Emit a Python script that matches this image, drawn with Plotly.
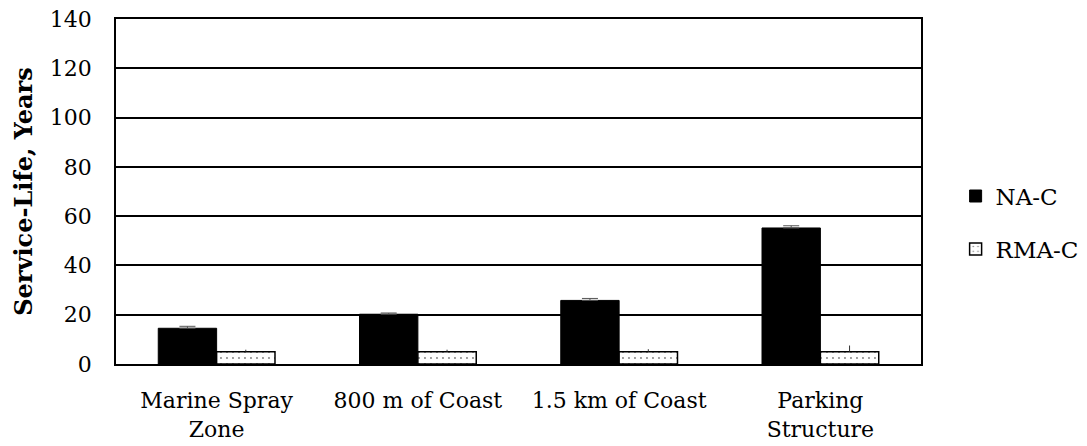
import plotly.graph_objects as go

categories = ["Marine Spray<br>Zone", "800 m of Coast", "1.5 km of Coast", "Parking<br>Structure"]
na_c = [14.5, 20.2, 25.8, 55.2]
na_c_err = [0.8, 0.5, 0.8, 0.9]
rma_c = [5.0, 5.0, 5.0, 5.0]
rma_c_err = [0.8, 0.8, 1.0, 2.5]
y_ticks = [0, 20, 40, 60, 80, 100, 120, 140]

FONT = "DejaVu Serif"
FS = 22

fig = go.Figure()
fig.add_trace(go.Bar(
    name="NA-C", x=categories, y=na_c, legendgroup="a",
    marker=dict(color="black", line=dict(color="black", width=1)),
    error_y=dict(type="data", array=na_c_err, symmetric=False, arrayminus=[0]*4,
                 color="#555", thickness=1, width=8),
))
fig.add_trace(go.Bar(
    name="RMA-C", x=categories, y=rma_c, legendgroup="b",
    marker=dict(color="white", line=dict(color="black", width=1.5),
                pattern=dict(shape=".", fgcolor="black", bgcolor="white", size=6, solidity=0.08)),
    error_y=dict(type="data", array=rma_c_err, symmetric=False, arrayminus=[0]*4,
                 color="#333", thickness=1, width=0),
))

fig.update_layout(
    width=1087, height=446,
    margin=dict(l=108, r=174, t=11, b=90),
    barmode="group", bargap=0.42, bargroupgap=0,
    plot_bgcolor="white", paper_bgcolor="white",
    font=dict(family=FONT, size=FS, color="black"),
    legend=dict(x=1.043, y=0.41, xanchor="left", yanchor="middle",
                font=dict(family=FONT, size=23), tracegroupgap=20, traceorder="grouped",
                itemwidth=30, bgcolor="rgba(0,0,0,0)"),
    showlegend=True,
)
fig.update_yaxes(
    range=[0, 140], tickvals=y_ticks, showgrid=True, gridcolor="black", gridwidth=1.5,
    showline=True, linecolor="black", linewidth=1.5, mirror=True, ticks="",
    title=dict(text="<b>Service-Life, Years</b>", font=dict(family=FONT, size=24), standoff=10),
    zeroline=False, automargin=False, ticklabelstandoff=18, ticklabeloverflow="allow",
)
fig.update_xaxes(
    showline=True, linecolor="black", linewidth=1.5, mirror=True, ticks="",
    tickfont=dict(family=FONT, size=FS), automargin=False, ticklabelstandoff=16,
    ticklabeloverflow="allow",
)

fig.write_html("out.html")
